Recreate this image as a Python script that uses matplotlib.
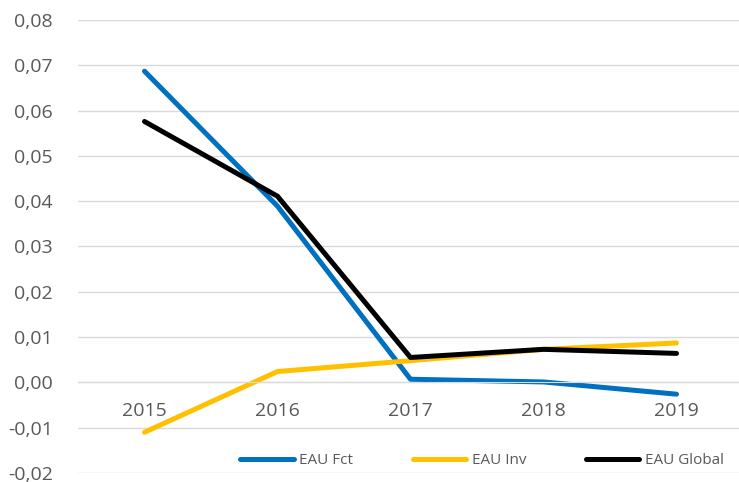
import matplotlib.pyplot as plt

years = ['2015', '2016', '2017', '2018', '2019']
eau_fct = [0.0687, 0.0389, 0.0007, 0.0001, -0.0026]
eau_inv = [-0.0110, 0.0024, 0.0048, 0.0073, 0.0087]
eau_global = [0.0576, 0.0411, 0.0055, 0.0073, 0.0064]

plt.rcParams['font.family'] = ['Open Sans', 'DejaVu Sans']

W, H = 739, 482
fig = plt.figure(figsize=(W / 100, H / 100), dpi=100)
ax = fig.add_axes([78 / W, 1 - 473 / H, (W - 78) / W, (473 - 20) / H])

x = range(len(years))
ax.plot(x, eau_fct, color='#0070C0', lw=3.6, solid_capstyle='round', label='EAU Fct')
ax.plot(x, eau_inv, color='#FFC000', lw=3.6, solid_capstyle='round', label='EAU Inv')
ax.plot(x, eau_global, color='#000000', lw=3.6, solid_capstyle='round', label='EAU Global')

ax.set_xlim(-0.5, 4.47)
ax.set_ylim(-0.02, 0.08)
ax.set_yticks([i / 100 for i in range(-2, 9)])
ax.set_yticklabels([f'{i / 100:.2f}'.replace('.', ',') for i in range(-2, 9)])
ax.set_xticks(list(x))
ax.set_xticklabels(years)

ax.grid(axis='y', color='#d9d9d9', lw=1)
ax.set_axisbelow(True)
for s in ['top', 'right', 'left']:
    ax.spines[s].set_visible(False)
ax.spines['bottom'].set_position(('data', 0))
ax.spines['bottom'].set_color('#d9d9d9')
ax.tick_params(axis='y', length=0, pad=18, labelsize=14, labelcolor='#595959')
ax.tick_params(axis='x', length=0, pad=14, labelsize=14, labelcolor='#595959')

leg = ax.legend(loc='center', bbox_to_anchor=(482 / W, 1 - 461 / H), bbox_transform=fig.transFigure,
                ncol=3, frameon=False, fontsize=11, handlelength=3.5, handletextpad=0.35,
                columnspacing=3.9)
for t in leg.get_texts():
    t.set_color('#595959')

fig.savefig('out.png', dpi=100)
